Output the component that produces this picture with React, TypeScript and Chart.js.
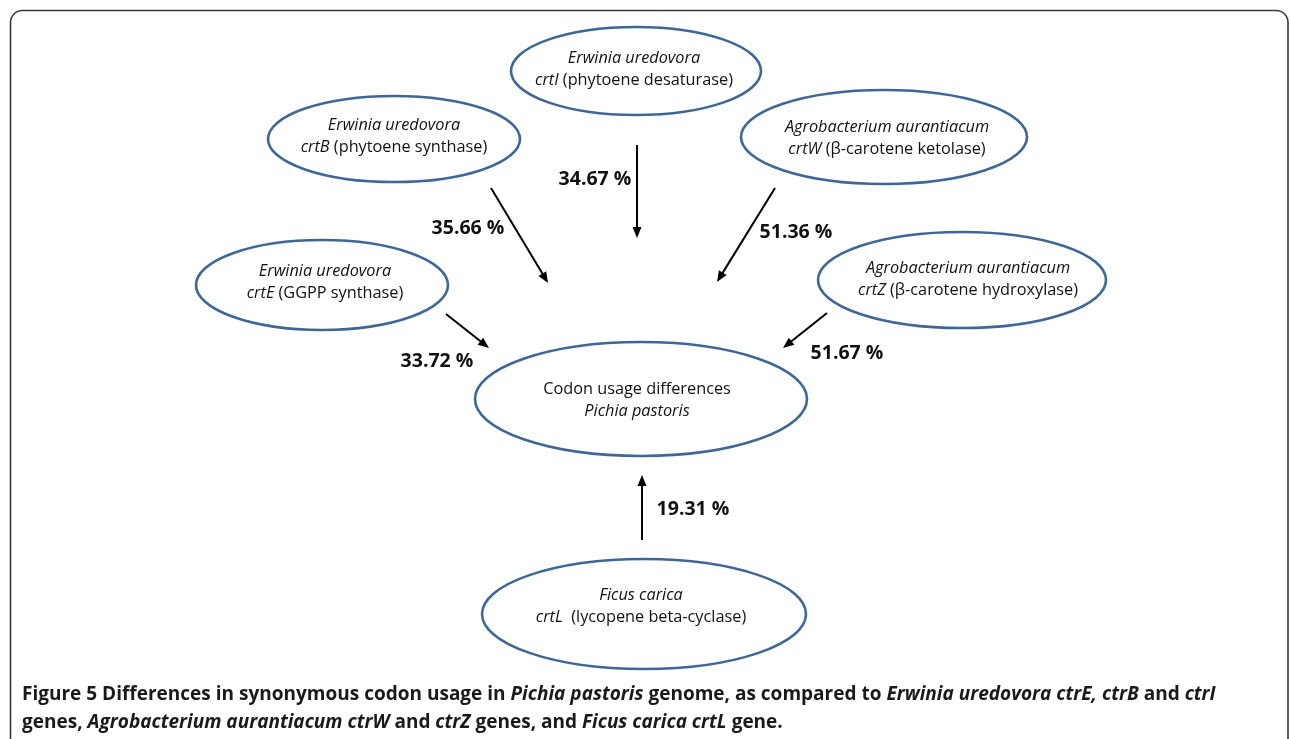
import { useEffect, useRef } from 'react';
import { Chart, registerables } from 'chart.js';

Chart.register(...registerables);

type Seg = [string, boolean];

// ---- nodes (ellipses) ----
const nodeIds = ['crtI', 'crtB', 'crtW', 'crtE', 'crtZ', 'pichia', 'crtL'];
const nodeX = [636, 394, 884, 322, 962, 641, 644];
const nodeY = [71, 139, 137, 285, 280, 399, 614];
const nodeRx = [125, 126, 143, 126, 144, 166, 162];
const nodeRy = [44, 43, 47, 45, 48, 57, 55];
const nodeTextX = [634, 394, 887, 325, 968, 637, 641];
const nodeTextY = [69, 136, 138, 282, 279, 400, 606];
const nodeLine1: Seg[][] = [
  [['Erwinia uredovora', true]],
  [['Erwinia uredovora', true]],
  [['Agrobacterium aurantiacum', true]],
  [['Erwinia uredovora', true]],
  [['Agrobacterium aurantiacum', true]],
  [['Codon usage differences', false]],
  [['Ficus carica', true]],
];
const nodeLine2: Seg[][] = [
  [['crtI', true], [' (phytoene desaturase)', false]],
  [['crtB', true], [' (phytoene synthase)', false]],
  [['crtW', true], [' (β-carotene ketolase)', false]],
  [['crtE', true], [' (GGPP synthase)', false]],
  [['crtZ', true], [' (β-carotene hydroxylase)', false]],
  [['Pichia pastoris', true]],
  [['crtL', true], ['  (lycopene beta-cyclase)', false]],
];

// ---- arrows ----
const arrowFromX = [637, 491, 775, 446, 827, 642];
const arrowFromY = [145, 188, 188, 314, 313, 540];
const arrowToX = [637, 548, 717, 489, 783, 642];
const arrowToY = [238, 283, 282, 348, 348, 475];
const arrowLabels = ['34.67 %', '35.66 %', '51.36 %', '33.72 %', '51.67 %', '19.31 %'];
const arrowLabelX = [595, 468, 796, 437, 847, 693];
const arrowLabelY = [179, 228, 232, 361, 353, 509];

// ---- caption ----
const captionLine1: Seg[] = [
  ['Figure 5', false],
  [' Differences in synonymous codon usage in ', false],
  ['Pichia pastoris', true],
  [' genome, as compared to ', false],
  ['Erwinia uredovora ctrE, ctrB', true],
  [' and ', false],
  ['ctrI', true],
];
const captionLine2: Seg[] = [
  ['genes, ', false],
  ['Agrobacterium aurantiacum ctrW', true],
  [' and ', false],
  ['ctrZ', true],
  [' genes, and ', false],
  ['Ficus carica crtL', true],
  [' gene.', false],
];

const FAMILY = '"Open Sans", "Noto Sans", sans-serif';
const ELLIPSE_COLOR = '#3E6797';

function fontOf(size: number, weight: string, italic: boolean) {
  return `${italic ? 'italic ' : ''}${weight} ${size}px ${FAMILY}`;
}

function segWidth(ctx: CanvasRenderingContext2D, segs: Seg[], size: number, weight: string) {
  let w = 0;
  for (const [t, it] of segs) {
    ctx.font = fontOf(size, weight, it);
    w += ctx.measureText(t).width;
  }
  return w;
}

function drawSegs(
  ctx: CanvasRenderingContext2D,
  segs: Seg[],
  x: number,
  y: number,
  size: number,
  weight: string,
  align: 'center' | 'left',
  baseline: CanvasTextBaseline
) {
  const total = segWidth(ctx, segs, size, weight);
  let cx = align === 'center' ? x - total / 2 : x;
  ctx.textAlign = 'left';
  ctx.textBaseline = baseline;
  for (const [t, it] of segs) {
    ctx.font = fontOf(size, weight, it);
    ctx.fillText(t, cx, y);
    cx += ctx.measureText(t).width;
  }
}

const diagramPlugin = {
  id: 'diagram',
  beforeDraw(chart: any) {
    const { ctx, width, height } = chart;
    ctx.save();
    ctx.fillStyle = '#ffffff';
    ctx.fillRect(0, 0, width, height);
    // frame
    const xs = chart.scales.x;
    const ys = chart.scales.y;
    const l = xs.getPixelForValue(10) + 0.5;
    const t = ys.getPixelForValue(10) + 0.5;
    const r = xs.getPixelForValue(1288);
    ctx.beginPath();
    ctx.roundRect(l, t, r - l, height + 40, 12);
    ctx.strokeStyle = '#3a3a3a';
    ctx.lineWidth = 1.6;
    ctx.stroke();
    ctx.restore();
  },
  afterDatasetsDraw(chart: any) {
    const { ctx } = chart;
    const xs = chart.scales.x;
    const ys = chart.scales.y;
    ctx.save();
    // ellipses
    nodeIds.forEach((_, i) => {
      const cx = xs.getPixelForValue(nodeX[i]);
      const cy = ys.getPixelForValue(nodeY[i]);
      const rx = Math.abs(xs.getPixelForValue(nodeX[i] + nodeRx[i]) - cx);
      const ry = Math.abs(ys.getPixelForValue(nodeY[i] + nodeRy[i]) - cy);
      ctx.beginPath();
      ctx.ellipse(cx, cy, rx, ry, 0, 0, Math.PI * 2);
      ctx.strokeStyle = ELLIPSE_COLOR;
      ctx.lineWidth = 2.6;
      ctx.stroke();
      ctx.fillStyle = '#111111';
      const tx = xs.getPixelForValue(nodeTextX[i]);
      const ty = ys.getPixelForValue(nodeTextY[i]);
      drawSegs(ctx, nodeLine1[i], tx, ty - 11, 16.3, 'normal', 'center', 'middle');
      drawSegs(ctx, nodeLine2[i], tx, ty + 11, 16.3, 'normal', 'center', 'middle');
    });
    // arrowheads
    arrowFromX.forEach((_, i) => {
      const x1 = xs.getPixelForValue(arrowFromX[i]);
      const y1 = ys.getPixelForValue(arrowFromY[i]);
      const x2 = xs.getPixelForValue(arrowToX[i]);
      const y2 = ys.getPixelForValue(arrowToY[i]);
      const a = Math.atan2(y2 - y1, x2 - x1);
      const len = 11;
      const hw = 4.5;
      ctx.beginPath();
      ctx.moveTo(x2, y2);
      ctx.lineTo(x2 - len * Math.cos(a) + hw * Math.sin(a), y2 - len * Math.sin(a) - hw * Math.cos(a));
      ctx.lineTo(x2 - len * Math.cos(a) - hw * Math.sin(a), y2 - len * Math.sin(a) + hw * Math.cos(a));
      ctx.closePath();
      ctx.fillStyle = '#000000';
      ctx.fill();
      // label
      ctx.fillStyle = '#111111';
      drawSegs(
        ctx,
        [[arrowLabels[i], false]],
        xs.getPixelForValue(arrowLabelX[i]),
        ys.getPixelForValue(arrowLabelY[i]),
        19.5,
        'bold',
        'center',
        'middle'
      );
    });
    // caption, fitted to its measured width in the reference
    const base = 17;
    const w1 = segWidth(ctx, captionLine1, base, 'bold');
    const size = base * (1195 / w1);
    ctx.fillStyle = '#1a1a1a';
    const capX = xs.getPixelForValue(22);
    drawSegs(ctx, captionLine1, capX, ys.getPixelForValue(700), size, 'bold', 'left', 'alphabetic');
    drawSegs(ctx, captionLine2, capX, ys.getPixelForValue(728), size, 'bold', 'left', 'alphabetic');
    ctx.restore();
  },
};

export default function App() {
  const ref = useRef<HTMLCanvasElement | null>(null);
  useEffect(() => {
    document.body.style.margin = '0';
    const canvas = ref.current;
    if (!canvas) return;
    const arrowSets = arrowFromX.map((_, i) => {
      const a = Math.atan2(arrowToY[i] - arrowFromY[i], arrowToX[i] - arrowFromX[i]);
      return {
        type: 'line' as const,
        label: arrowLabels[i],
        data: [
          { x: arrowFromX[i], y: arrowFromY[i] },
          { x: arrowToX[i] - 6 * Math.cos(a), y: arrowToY[i] - 6 * Math.sin(a) },
        ],
        borderColor: '#000000',
        borderWidth: 2,
        pointRadius: 0,
        showLine: true,
        fill: false,
      };
    });
    const chart = new Chart(canvas, {
      type: 'scatter',
      data: {
        datasets: [
          {
            label: 'nodes',
            data: nodeX.map((x, i) => ({ x, y: nodeY[i] })),
            pointRadius: 0,
          },
          ...arrowSets,
        ] as any,
      },
      options: {
        animation: false,
        responsive: false,
        devicePixelRatio: 1,
        layout: { padding: 0 },
        events: [],
        plugins: { legend: { display: false }, tooltip: { enabled: false } },
        scales: {
          x: { type: 'linear', min: 0, max: 1290, display: false },
          y: { type: 'linear', min: 0, max: 739, reverse: true, display: false },
        },
      },
      plugins: [diagramPlugin],
    });
    return () => chart.destroy();
  }, []);
  return (
    <div style={{ position: 'fixed', left: 0, top: 0, width: 1290, height: 739, background: '#fff' }}>
      <canvas ref={ref} width={1290} height={739} style={{ width: 1290, height: 739, display: 'block' }} />
    </div>
  );
}
